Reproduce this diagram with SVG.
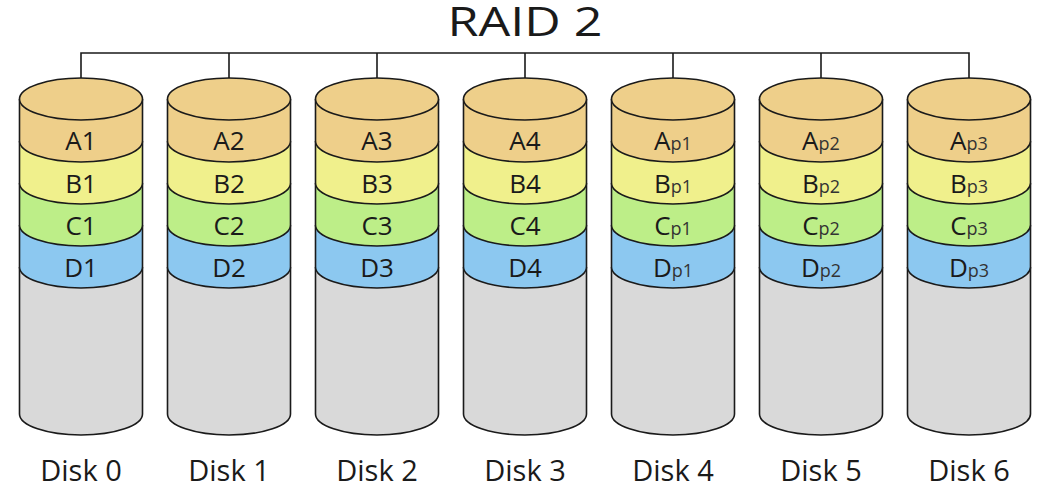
<svg xmlns="http://www.w3.org/2000/svg" width="1056" height="500" viewBox="0 0 1056 500">
<defs>
<style>
.s{stroke:#1a1a1a;stroke-width:1.6}
.g{fill:#d9d9d9}.a{fill:#eecf8a}.b{fill:#f0f08c}.c{fill:#bdee88}.d{fill:#8cc8f0}
.t{font-family:"Open Sans","Noto Sans",sans-serif;fill:#1a1a1a;text-anchor:middle}
.l{font-size:26px}.sub{font-size:18px;fill:#333}
.dl{font-size:29px}
.w{fill:none;stroke:#1a1a1a;stroke-width:1.6}
</style>
<g id="cyl">
<path class="s g" d="M-61.5,267 L-61.5,414 A61.5,21 0 0 0 61.5,414 L61.5,267"/>
<path class="s d" d="M-61.5,225 L-61.5,267 A61.5,21 0 0 0 61.5,267 L61.5,225"/>
<path class="s c" d="M-61.5,183 L-61.5,225 A61.5,21 0 0 0 61.5,225 L61.5,183"/>
<path class="s b" d="M-61.5,141 L-61.5,183 A61.5,21 0 0 0 61.5,183 L61.5,141"/>
<path class="s a" d="M-61.5,99 L-61.5,141 A61.5,21 0 0 0 61.5,141 L61.5,99"/>
<ellipse class="s a" cx="0" cy="99" rx="61.5" ry="21"/>
</g>
</defs>
<text class="t" x="525" y="36" font-size="40" textLength="155" lengthAdjust="spacingAndGlyphs">RAID 2</text>
<g id="connectors">
<path class="w" d="M81,99 V53 H969 V99 M229,53 V99 M377,53 V99 M525,53 V99 M673,53 V99 M821,53 V99"/>
</g>
<g id="disk0"><use href="#cyl" x="81"/>
<text class="t l" x="81" y="150">A1</text><text class="t l" x="81" y="193">B1</text><text class="t l" x="81" y="235">C1</text><text class="t l" x="81" y="277">D1</text>
<text class="t dl" x="81" y="481">Disk 0</text></g>
<g id="disk1"><use href="#cyl" x="229"/>
<text class="t l" x="229" y="150">A2</text><text class="t l" x="229" y="193">B2</text><text class="t l" x="229" y="235">C2</text><text class="t l" x="229" y="277">D2</text>
<text class="t dl" x="229" y="481">Disk 1</text></g>
<g id="disk2"><use href="#cyl" x="377"/>
<text class="t l" x="377" y="150">A3</text><text class="t l" x="377" y="193">B3</text><text class="t l" x="377" y="235">C3</text><text class="t l" x="377" y="277">D3</text>
<text class="t dl" x="377" y="481">Disk 2</text></g>
<g id="disk3"><use href="#cyl" x="525"/>
<text class="t l" x="525" y="150">A4</text><text class="t l" x="525" y="193">B4</text><text class="t l" x="525" y="235">C4</text><text class="t l" x="525" y="277">D4</text>
<text class="t dl" x="525" y="481">Disk 3</text></g>
<g id="disk4"><use href="#cyl" x="673"/>
<text class="t l" x="673" y="150">A<tspan class="sub">p1</tspan></text><text class="t l" x="673" y="193">B<tspan class="sub">p1</tspan></text><text class="t l" x="673" y="235">C<tspan class="sub">p1</tspan></text><text class="t l" x="673" y="277">D<tspan class="sub">p1</tspan></text>
<text class="t dl" x="673" y="481">Disk 4</text></g>
<g id="disk5"><use href="#cyl" x="821"/>
<text class="t l" x="821" y="150">A<tspan class="sub">p2</tspan></text><text class="t l" x="821" y="193">B<tspan class="sub">p2</tspan></text><text class="t l" x="821" y="235">C<tspan class="sub">p2</tspan></text><text class="t l" x="821" y="277">D<tspan class="sub">p2</tspan></text>
<text class="t dl" x="821" y="481">Disk 5</text></g>
<g id="disk6"><use href="#cyl" x="969"/>
<text class="t l" x="969" y="150">A<tspan class="sub">p3</tspan></text><text class="t l" x="969" y="193">B<tspan class="sub">p3</tspan></text><text class="t l" x="969" y="235">C<tspan class="sub">p3</tspan></text><text class="t l" x="969" y="277">D<tspan class="sub">p3</tspan></text>
<text class="t dl" x="969" y="481">Disk 6</text></g>
</svg>
